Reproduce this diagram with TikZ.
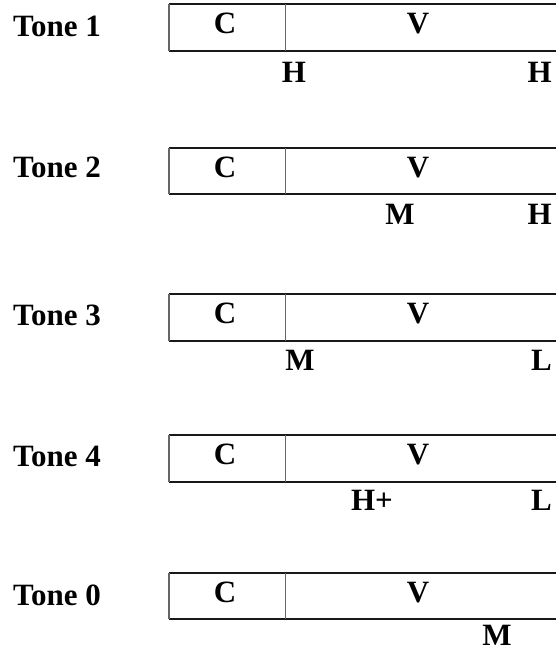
\documentclass[tikz,border=0pt]{standalone}
\usepackage{fontspec}
\setmainfont{Liberation Serif}
\begin{document}
\begin{tikzpicture}[x=1pt,y=-1pt,
  lab/.style={font=\fontsize{31}{34}\selectfont\bfseries, inner sep=0pt},
  hline/.style={line width=1.2pt, black!90},
  vline/.style={line width=1.4pt, black!60}]
\useasboundingbox (0,0) rectangle (556,651);

% segment box: top and bottom rules run off to the right edge
\newcommand\segbox[2]{%
  \draw[hline] (169,#1) -- (556,#1);
  \draw[hline] (169,#2) -- (556,#2);
  \draw[vline] (169,#1) -- (169,#2);
  \draw[vline] (285.5,#1) -- (285.5,#2);}

% Tone 1
\segbox{4}{51}
\node[lab, anchor=base west] (t1) at (13,36) {Tone 1};
\node[lab, anchor=base] (c1) at (225,33) {C};
\node[lab, anchor=base] (v1) at (418,33) {V};
\node[lab, anchor=base] (a1) at (294,82) {H};
\node[lab, anchor=base east] (b1) at (552,82) {H};

% Tone 2
\segbox{148}{194}
\node[lab, anchor=base west] (t2) at (13,177) {Tone 2};
\node[lab, anchor=base] (c2) at (225,177) {C};
\node[lab, anchor=base] (v2) at (418,177) {V};
\node[lab, anchor=base] (a2) at (400,224) {M};
\node[lab, anchor=base east] (b2) at (552,224) {H};

% Tone 3
\segbox{294}{341}
\node[lab, anchor=base west] (t3) at (13,325) {Tone 3};
\node[lab, anchor=base] (c3) at (225,323) {C};
\node[lab, anchor=base] (v3) at (418,323) {V};
\node[lab, anchor=base] (a3) at (300,370) {M};
\node[lab, anchor=base east] (b3) at (552,370) {L};

% Tone 4
\segbox{435}{482}
\node[lab, anchor=base west] (t4) at (13,466) {Tone 4};
\node[lab, anchor=base] (c4) at (225,464) {C};
\node[lab, anchor=base] (v4) at (418,464) {V};
\node[lab, anchor=base] (a4) at (372,510) {H+};
\node[lab, anchor=base east] (b4) at (552,510) {L};

% Tone 0
\segbox{573}{619}
\node[lab, anchor=base west] (t0) at (13,605) {Tone 0};
\node[lab, anchor=base] (c0) at (225,602) {C};
\node[lab, anchor=base] (v0) at (418,602) {V};
\node[lab, anchor=base] (a0) at (497,645) {M};
\end{tikzpicture}
\end{document}
